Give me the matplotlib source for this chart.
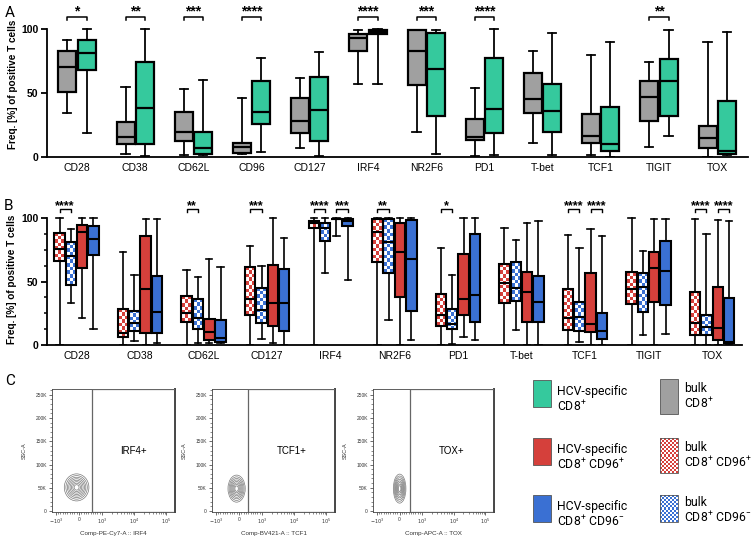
import matplotlib
matplotlib.use("Agg")
import matplotlib.pyplot as plt
from matplotlib.patches import Rectangle, Ellipse
from matplotlib.colors import to_rgb
import numpy as np

# ---------------------------------------------------------------------------
# Data  (each row: whisker low, Q1, median, Q3, whisker high)
# ---------------------------------------------------------------------------
markers_a = ["CD28", "CD38", "CD62L", "CD96", "CD127", "IRF4",
             "NR2F6", "PD1", "T-bet", "TCF1", "TIGIT", "TOX"]

bulk_cd8 = [
    [34.5, 50.5, 70.0, 83.0, 91.6],
    [2.6, 10.0, 16.0, 27.7, 54.5],
    [1.3, 12.6, 19.6, 35.0, 53.0],
    [2.0, 2.9, 8.0, 11.0, 46.0],
    [7.0, 19.0, 28.0, 46.0, 62.0],
    [57.0, 83.0, 92.7, 96.0, 99.5],
    [19.6, 56.5, 82.5, 99.0, 99.5],
    [1.0, 13.0, 15.7, 29.6, 54.0],
    [11.0, 34.0, 45.0, 65.4, 83.0],
    [1.8, 11.0, 16.5, 33.5, 79.6],
    [7.6, 28.0, 47.0, 59.0, 74.0],
    [0.0, 7.0, 15.2, 24.3, 89.5],
]
hcv_cd8 = [
    [19.0, 68.0, 81.0, 91.6, 100.0],
    [0.5, 10.0, 38.0, 74.0, 100.0],
    [1.3, 2.0, 6.8, 19.4, 60.0],
    [4.0, 25.6, 35.0, 59.0, 77.0],
    [0.5, 12.6, 37.0, 62.5, 82.0],
    [57.0, 96.3, 97.6, 99.5, 100.0],
    [2.4, 32.0, 69.0, 97.0, 99.5],
    [1.3, 19.0, 37.4, 77.0, 100.0],
    [1.3, 19.4, 36.0, 57.0, 96.6],
    [0.0, 5.0, 10.0, 39.0, 90.0],
    [16.5, 31.7, 59.7, 76.4, 99.0],
    [1.8, 2.4, 4.7, 43.7, 98.0],
]
sig_a = [("CD28", "*"), ("CD38", "**"), ("CD62L", "***"), ("CD96", "****"),
         ("IRF4", "****"), ("NR2F6", "***"), ("PD1", "****"), ("TIGIT", "**")]

markers_b = ["CD28", "CD38", "CD62L", "CD127", "IRF4", "NR2F6",
             "PD1", "T-bet", "TCF1", "TIGIT", "TOX"]

bulk_cd96pos = [
    [0.0, 66.0, 75.3, 88.5, 100.0],
    [0.0, 6.6, 9.7, 28.3, 73.5],
    [0.0, 17.8, 25.5, 38.6, 59.0],
    [0.0, 23.6, 36.5, 61.7, 78.0],
    [0.0, 92.0, 95.8, 98.0, 99.7],
    [0.0, 65.6, 88.7, 99.0, 99.7],
    [0.0, 15.0, 23.6, 40.0, 76.6],
    [0.0, 33.0, 48.6, 64.0, 92.4],
    [0.0, 11.8, 21.0, 44.4, 86.9],
    [0.0, 32.5, 44.4, 57.5, 100.0],
    [0.0, 7.9, 17.0, 41.7, 99.5],
]
bulk_cd96neg = [
    [33.0, 47.0, 70.0, 81.4, 91.3],
    [3.0, 11.0, 17.0, 27.0, 55.4],
    [1.3, 12.3, 21.0, 36.0, 53.8],
    [5.0, 17.0, 27.6, 44.6, 62.5],
    [57.0, 82.0, 92.0, 96.0, 99.7],
    [19.7, 56.4, 81.0, 99.0, 99.7],
    [0.8, 12.9, 16.5, 28.6, 55.0],
    [11.8, 35.0, 45.0, 65.6, 82.4],
    [2.6, 11.0, 22.0, 34.0, 76.0],
    [7.9, 26.0, 45.4, 57.0, 74.3],
    [0.0, 7.6, 14.4, 23.6, 87.4],
]
hcv_cd96pos = [
    [21.5, 60.4, 88.7, 94.5, 100.0],
    [0.0, 9.2, 44.4, 86.0, 99.0],
    [1.3, 4.0, 10.5, 20.5, 68.0],
    [1.3, 15.0, 32.8, 62.7, 99.7],
    [85.8, 99.0, 99.2, 99.5, 99.7],
    [0.0, 38.0, 73.0, 95.8, 99.7],
    [6.6, 24.0, 36.5, 71.4, 99.7],
    [0.0, 18.0, 41.7, 57.7, 95.8],
    [0.0, 10.2, 16.3, 57.0, 91.0],
    [0.0, 34.0, 61.0, 73.5, 99.2],
    [0.0, 4.0, 13.6, 45.4, 98.4],
]
hcv_cd96neg = [
    [12.6, 71.0, 83.5, 93.7, 100.0],
    [1.3, 9.2, 26.0, 54.6, 99.0],
    [1.3, 2.6, 5.8, 19.7, 61.7],
    [0.0, 11.0, 32.8, 59.6, 84.0],
    [51.0, 93.7, 97.6, 99.0, 99.7],
    [4.0, 27.0, 68.0, 98.4, 99.7],
    [4.0, 17.8, 39.6, 87.7, 99.7],
    [0.0, 18.0, 33.9, 54.6, 97.4],
    [0.0, 4.5, 11.0, 25.0, 85.8],
    [8.4, 31.5, 58.0, 82.0, 99.5],
    [0.0, 1.8, 2.6, 36.7, 97.4],
]
# (marker, first group, second group, stars)
sig_b = [("CD28", 0, 1, "****"), ("CD62L", 0, 1, "**"), ("CD127", 0, 1, "***"),
         ("IRF4", 0, 1, "****"), ("IRF4", 2, 3, "***"), ("NR2F6", 0, 1, "**"),
         ("PD1", 0, 1, "*"), ("TCF1", 0, 1, "****"), ("TCF1", 2, 3, "****"),
         ("TOX", 0, 1, "****"), ("TOX", 2, 3, "****")]

# flow cytometry examples (panel C)
flow_xlabels = ["Comp-PE-Cy7-A :: IRF4", "Comp-BV421-A :: TCF1", "Comp-APC-A :: TOX"]
flow_gates = ["IRF4+", "TCF1+", "TOX+"]
flow_gate_x = [560, 390, 470]

# ---------------------------------------------------------------------------
# Style
# ---------------------------------------------------------------------------
GREEN = "#35C99D"
GRAY = "#A0A0A0"
RED = "#D5403B"
BLUE = "#3A70D3"
FONT = "Liberation Sans"

W, H = 753, 539
plt.rcParams["font.family"] = FONT

POS = r"$^{\mathregular{+}}$"
NEG = r"$^{\mathregular{-}}$"


def px_rect(l, t, r, b):
    return [l / W, 1 - b / H, (r - l) / W, (b - t) / H]


def checker(color, nx, ny):
    idx = np.add.outer(np.arange(ny), np.arange(nx)) % 2
    c = np.array(to_rgb(color))
    return np.where(idx[..., None] == 0, c, np.ones(3))


def stats_of(rows):
    return [dict(whislo=r[0], q1=r[1], med=r[2], q3=r[3], whishi=r[4], fliers=[])
            for r in rows]


def draw_group(ax, rows, pos, width, capw, face, lw, checker_color=None, px_y=1.27):
    ax.bxp(stats_of(rows), positions=pos, widths=width, capwidths=capw,
           patch_artist=True, showfliers=False, manage_ticks=False,
           boxprops=dict(facecolor="none" if checker_color else face,
                         edgecolor="black", linewidth=lw),
           medianprops=dict(color="black", linewidth=lw),
           whiskerprops=dict(color="black", linewidth=lw * 0.8),
           capprops=dict(color="black", linewidth=lw * 0.8), zorder=3)
    if checker_color:
        for p, r in zip(pos, rows):
            ny = max(1, int(round((r[3] - r[1]) * px_y / 3.6)))
            ax.imshow(checker(checker_color, 3, ny),
                      extent=(p - width / 2, p + width / 2, r[1], r[3]),
                      aspect="auto", interpolation="nearest", zorder=2)


def style_box_axes(ax, labels, xlim, minor):
    ax.set_xlim(*xlim)
    ax.set_ylim(0, 120)
    for s in ("top", "right"):
        ax.spines[s].set_visible(False)
    ax.spines["left"].set_bounds(0, 100)
    for s in ("left", "bottom"):
        ax.spines[s].set_linewidth(1.3)
    ax.set_yticks([0, 50, 100])
    ax.set_yticklabels(["0", "50", "100"], fontsize=7.5, fontweight="bold")
    if minor:
        ax.set_yticks(np.arange(0, 101, 12.5), minor=True)
        ax.tick_params(axis="y", which="minor", length=2.5, width=1.1)
    ax.tick_params(axis="y", which="major", length=4, width=1.3, pad=2)
    ax.set_xticks(range(len(labels)))
    ax.set_xticklabels(labels, fontsize=7.5)
    ax.tick_params(axis="x", length=0, pad=4)
    ax.set_ylabel("Freq. [%] of positive T cells", fontsize=7.2, fontweight="bold")
    ax.patch.set_visible(False)


fig = plt.figure(figsize=(W / 100, H / 100), dpi=100, facecolor="white")

# ---- Panel A -------------------------------------------------------------
ax_a = fig.add_axes(px_rect(47, 3.4, 748, 157))
xa = np.arange(len(markers_a))
off_a, w_a = 0.165, 0.31
draw_group(ax_a, bulk_cd8, xa - off_a, w_a, 0.14, GRAY, 1.6)
draw_group(ax_a, hcv_cd8, xa + off_a, w_a, 0.14, GREEN, 1.6)
for m, stars in sig_a:
    i = markers_a.index(m)
    x0, x1 = i - off_a, i + off_a
    ax_a.plot([x0, x0, x1, x1], [107, 109.5, 109.5, 107], color="black", lw=1.1,
              clip_on=False)
    ax_a.text(i, 110.3, stars, ha="center", va="baseline", fontsize=10,
              fontweight="bold")
style_box_axes(ax_a, markers_a, (-0.515, 11.53), minor=False)
ax_a.yaxis.set_label_coords(-0.042, 0.47)

# ---- Panel B -------------------------------------------------------------
ax_b = fig.add_axes(px_rect(47, 192.6, 742, 345))
xb = np.arange(len(markers_b))
step_b, w_b = 0.178, 0.165
groups_b = [(bulk_cd96pos, "white", RED), (bulk_cd96neg, "white", BLUE),
            (hcv_cd96pos, RED, None), (hcv_cd96neg, BLUE, None)]
for k, (rows, face, chk) in enumerate(groups_b):
    draw_group(ax_b, rows, xb + (k - 1.5) * step_b, w_b, 0.1, face, 1.5, chk)
for m, g0, g1, stars in sig_b:
    i = markers_b.index(m)
    x0, x1 = i + (g0 - 1.5) * step_b, i + (g1 - 1.5) * step_b
    ax_b.plot([x0, x0, x1, x1], [104.5, 106.8, 106.8, 104.5], color="black", lw=1.0,
              clip_on=False)
    ax_b.text((x0 + x1) / 2, 107, stars, ha="center", va="baseline", fontsize=9,
              fontweight="bold")
style_box_axes(ax_b, markers_b, (-0.464, 10.47), minor=True)
ax_b.yaxis.set_label_coords(-0.043, 0.43)

# ---- Panel C : flow plots ----------------------------------------------
flow_boxes = [(52, 389, 175, 512), (212, 389, 335, 512), (373, 389, 494, 512)]
# contour rings in axes fraction: centre x, centre y, outer rx, outer ry
rings = [(0.20, 0.20, 0.10, 0.11), (0.20, 0.19, 0.07, 0.11), (0.22, 0.19, 0.052, 0.118)]
ring_scale = [1.0, 0.87, 0.75, 0.64, 0.53, 0.42, 0.31, 0.2]
minor_x = ([-v for v in range(1000, 0, -100)] + list(range(100, 1000, 100))
           + [m * 10 ** e for e in (3, 4) for m in range(2, 10)])
for j, box in enumerate(flow_boxes):
    ax = fig.add_axes(px_rect(*box))
    ax.set_xscale("symlog", linthresh=1000, linscale=0.65)
    ax.set_xlim(-1320, 1.9e5)
    ax.set_ylim(-2000, 262144)
    for s in ax.spines.values():
        s.set_linewidth(0.6)
        s.set_color("#444444")
    ax.spines["right"].set_linewidth(1.4)
    ax.set_xticks([-1000, 0, 1000, 1e4, 1e5])
    ax.set_xticklabels(["$-10^3$", "0", "$10^3$", "$10^4$", "$10^5$"], fontsize=3.5,
                       color="#333333")
    ax.set_xticks(minor_x, minor=True)
    ax.set_yticks(range(0, 250001, 50000))
    ax.set_yticklabels(["0", "50K", "100K", "150K", "200K", "250K"], fontsize=3.5,
                       color="#333333")
    ax.set_yticks(range(0, 260001, 10000), minor=True)
    ax.tick_params(which="major", length=2.2, width=0.5, pad=1.5, color="#333333")
    ax.tick_params(which="minor", length=1.2, width=0.4, color="#333333")
    ax.set_ylabel("SSC-A", fontsize=4, labelpad=6, color="#333333")
    ax.set_xlabel(flow_xlabels[j], fontsize=4.5, labelpad=3, color="#333333")
    ax.add_patch(Rectangle((flow_gate_x[j], -2000), 1.9e5 - flow_gate_x[j], 264144,
                           fill=False, edgecolor="#666666", lw=0.9, zorder=3))
    gx = ax.transAxes.inverted().transform(ax.transData.transform((flow_gate_x[j], 0)))[0]
    ax.text((gx + 1) / 2, 0.5, flow_gates[j], transform=ax.transAxes,
            ha="center", va="center", fontsize=7)
    cx, cy, rx, ry = rings[j]
    for s in ring_scale:
        ax.add_patch(Ellipse((cx, cy), 2 * rx * s, 2 * ry * s, transform=ax.transAxes,
                             fill=False, edgecolor="#7a7a7a", lw=0.5))

# ---- Legend --------------------------------------------------------------
ax_l = fig.add_axes(px_rect(520, 370, 753, 539))
ax_l.axis("off")
# x, top, height, fill, checker colour, text, text offset from swatch centre
legend_items = [
    (533, 380, 27, GREEN, None, "HCV-specific\nCD8" + POS, 6),
    (533, 438, 27, RED, None, "HCV-specific\nCD8" + POS + " CD96" + POS, 6),
    (533, 495, 27, BLUE, None, "HCV-specific\nCD8" + POS + " CD96" + NEG, 6),
    (660, 379, 35, GRAY, None, "bulk\nCD8" + POS, 0),
    (660, 438, 35, None, RED, "bulk\nCD8" + POS + " CD96" + POS, 0),
    (660, 495, 27, None, BLUE, "bulk\nCD8" + POS + " CD96" + NEG, 2),
]
for x, y, h, face, chk, label, dy in legend_items:
    if chk:
        ax_l.imshow(checker(chk, 9, int(h / 2)), extent=(x, x + 18, y + h, y),
                    aspect="auto", interpolation="nearest", zorder=1)
        ax_l.add_patch(Rectangle((x, y), 18, h, fill=False, edgecolor="#555555",
                                 lw=0.6, zorder=2))
    else:
        ax_l.add_patch(Rectangle((x, y), 18, h, facecolor=face, edgecolor="#555555",
                                 lw=0.6, zorder=2))
    ax_l.text(x + 24, y + h / 2 + dy, label, ha="left", va="center", fontsize=8.8,
              family="Roboto", linespacing=1.05)
ax_l.set_xlim(520, 753)
ax_l.set_ylim(539, 370)

# ---- Panel letters -------------------------------------------------------
for letter, (x, y) in {"A": (5, 17), "B": (4, 210), "C": (5, 385)}.items():
    fig.text(x / W, 1 - y / H, letter, fontsize=11, family="Roboto", va="baseline")

fig.savefig("out.png", dpi=100, facecolor="white")
